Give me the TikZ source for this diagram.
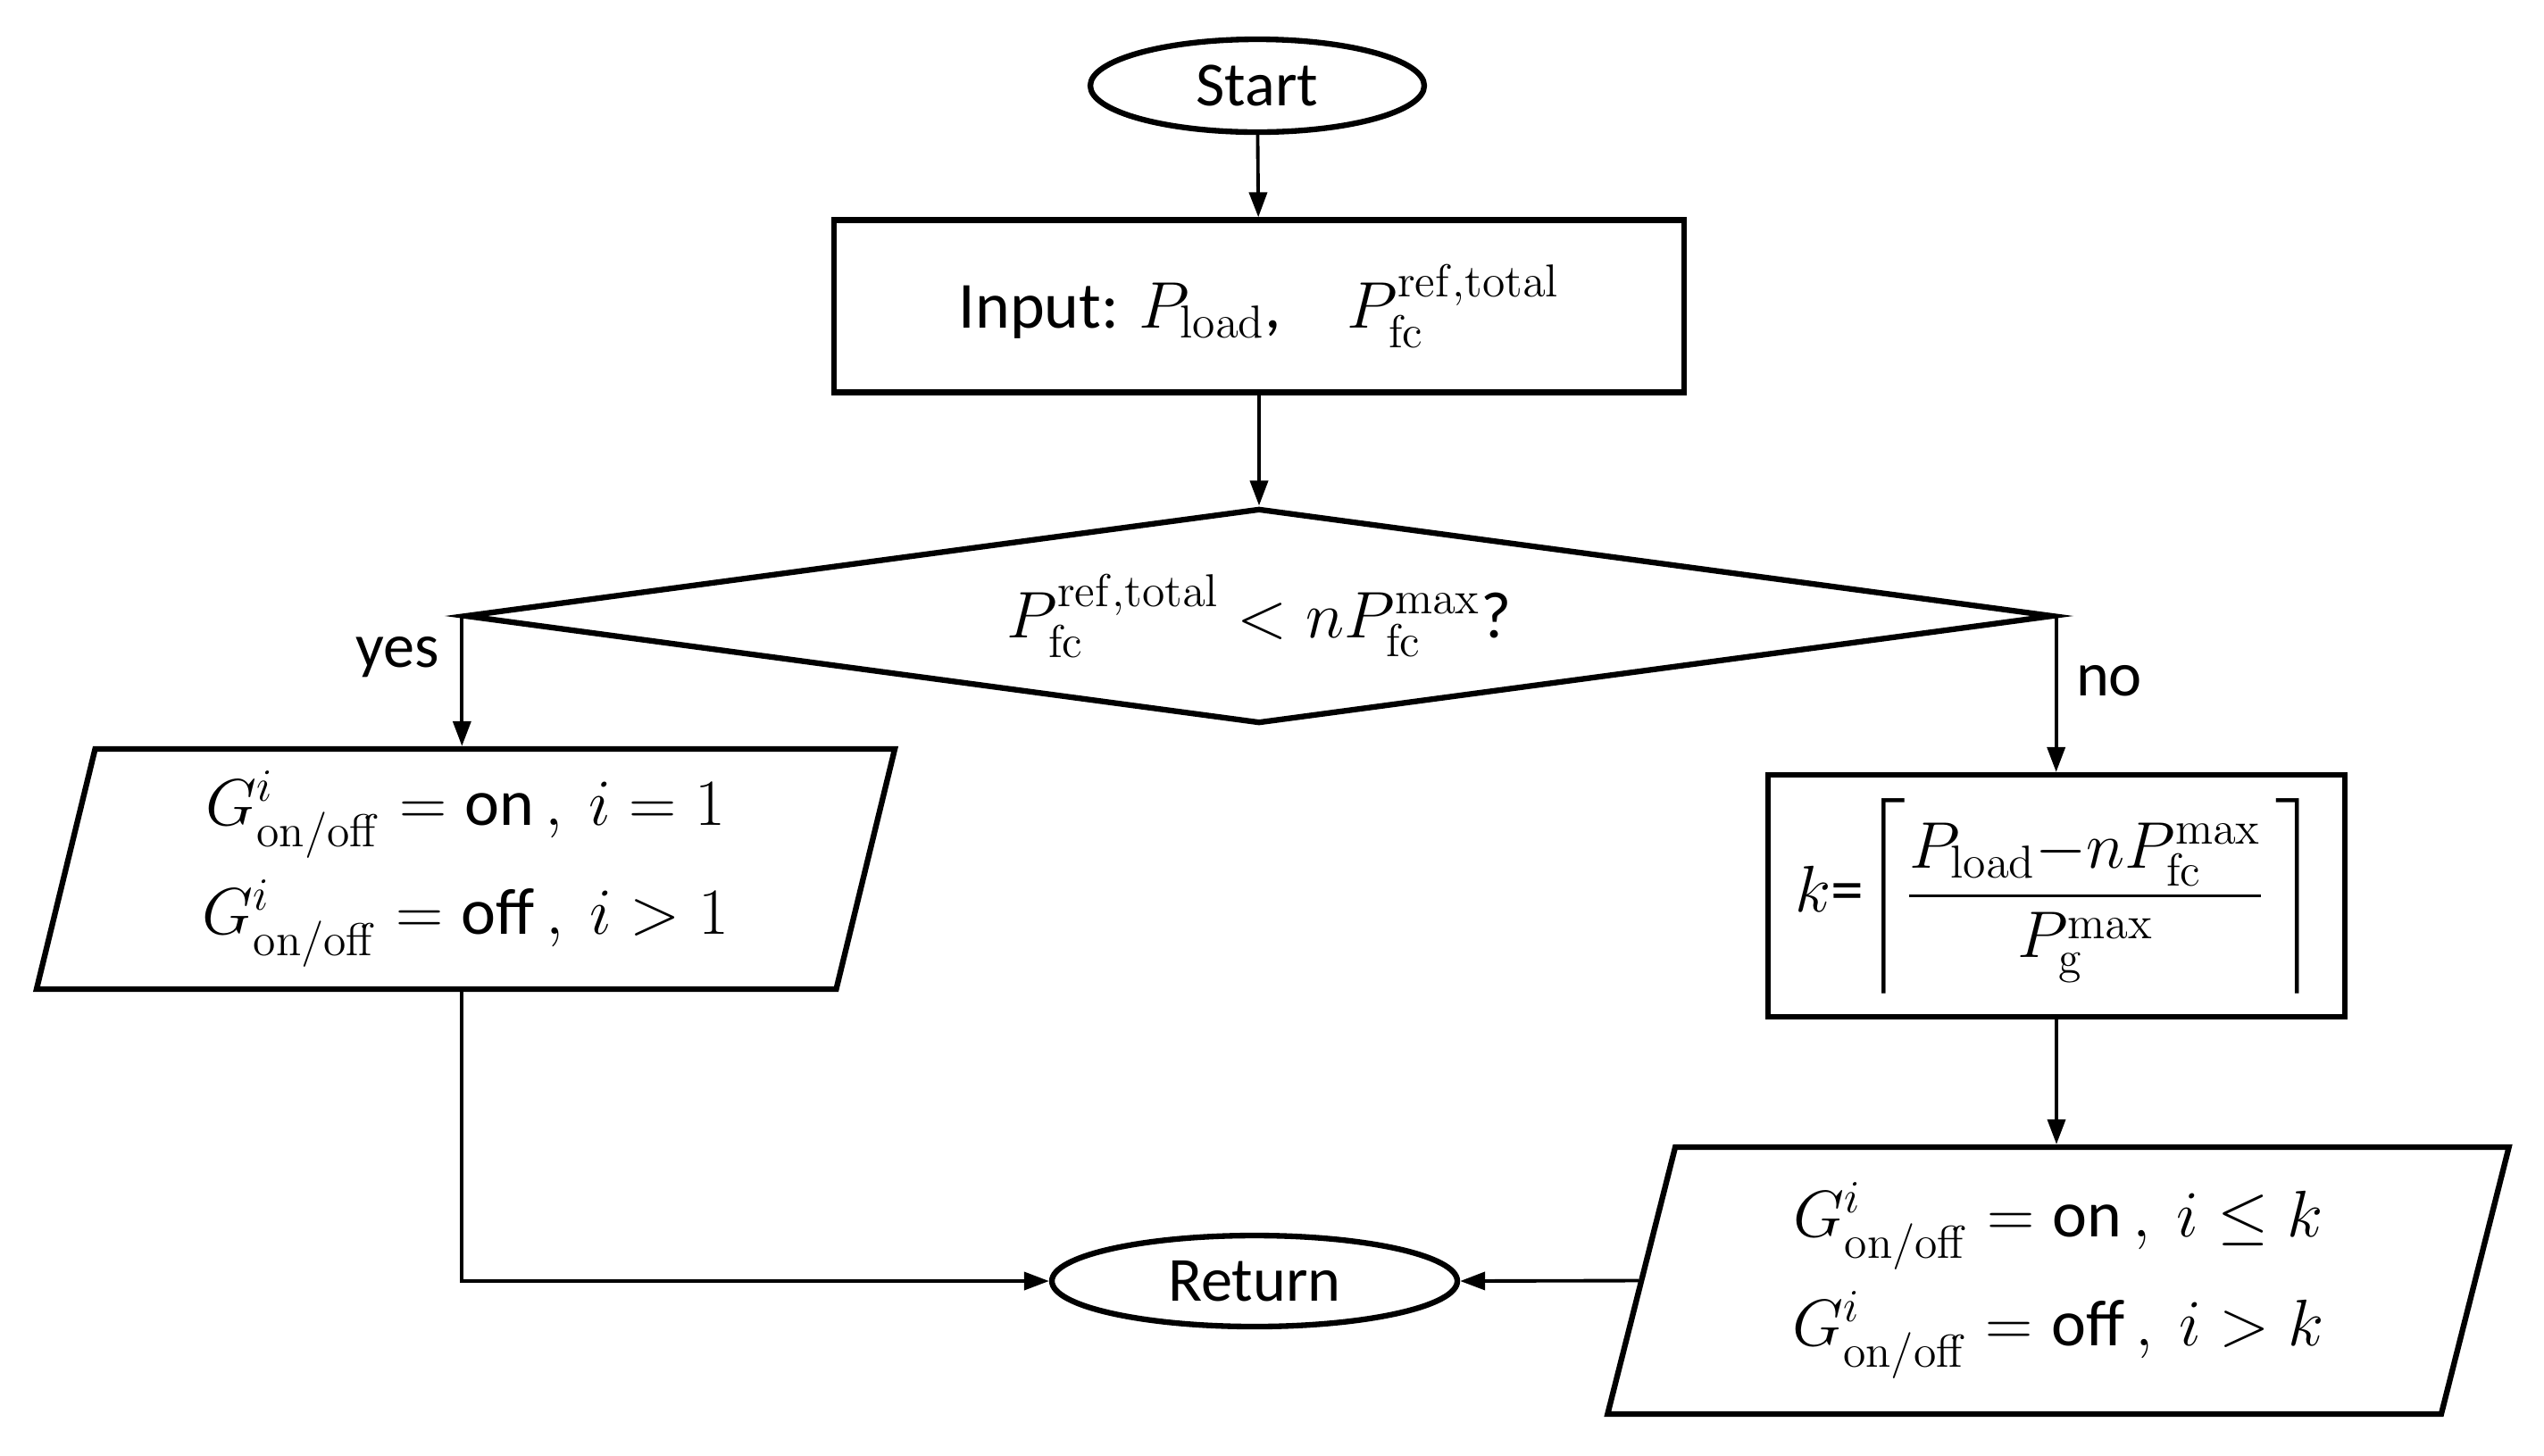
\RequirePackage{fix-cm}
\documentclass[tikz,border=0pt]{standalone}
\usepackage{amsmath}
\usepackage[no-math]{fontspec}
\setmainfont{Carlito}
\usetikzlibrary{shapes.geometric,arrows.meta}

\begin{document}
\begin{tikzpicture}[
	every node/.style={font=\fontsize{20}{26}\selectfont},
	term/.style={ellipse, draw, line width=1.8pt, inner sep=0pt},
	proc/.style={rectangle, draw, line width=1.8pt, inner sep=0pt},
	io/.style={trapezium, trapezium stretches=true, draw, line width=1.8pt, inner sep=0pt, align=center, font=\fontsize{21}{27}\selectfont},
	decide/.style={diamond, draw, line width=1.8pt, inner sep=0pt, shape aspect=7.4},
	arr/.style={line width=1.1pt, -{Triangle[length=0.28cm,width=0.2cm]}}
	]
			%%%%% START %%%%%
			
			\useasboundingbox (0, 0) rectangle (28.49, -16.30);
			
			\node[term, minimum width=3.74cm, minimum height=1.04cm] (start) at (14.08, -0.96) {Start};
			\node[proc, minimum width=9.52cm, minimum height=1.93cm, font=\fontsize{21}{27}\selectfont] (input) at (14.10, -3.43) {Input: $P_{\mathrm{load}}$,\quad$P_{\mathrm{fc}}^{\mathrm{ref,total}}$};
			\node[decide, minimum width=17.79cm, minimum height=2.41cm, font=\fontsize{21}{27}\selectfont] (cond) at (14.10, -6.90) {$P_{\mathrm{fc}}^{\mathrm{ref,total}} < nP_{\mathrm{fc}}^{\mathrm{max}}$?};
			
			\node[io, trapezium left angle=78, trapezium right angle=102, minimum width=9.63cm, minimum height=2.69cm] (one) at (5.215, -9.735) {$G_{\mathrm{on/off}}^{i} = \text{on}\,,\ i = 1$\\[6pt] $G_{\mathrm{on/off}}^{i} = \text{off}\,,\ i > 1$};
			\node[proc, minimum width=6.46cm, minimum height=2.71cm, font=\fontsize{21}{27}\selectfont] (kval) at (23.03, -10.035) {$k$=$\left\lceil\dfrac{P_{\mathrm{load}}{-}nP_{\mathrm{fc}}^{\mathrm{max}}}{P_{\mathrm{g}}^{\mathrm{max}}}\,\right\rceil$};
			\node[io, trapezium left angle=76.5, trapezium right angle=103.5, minimum width=10.12cm, minimum height=2.99cm] (many) at (23.05, -14.345) {$G_{\mathrm{on/off}}^{i} = \text{on}\,,\ i \leq k$\\[6pt] $G_{\mathrm{on/off}}^{i} = \text{off}\,,\ i > k$};
			
			\node[term, minimum width=4.54cm, minimum height=1.02cm] (ret) at (14.05, -14.35) {Return};
			
			\node (yes) at (4.45, -7.36) {yes};
			\node (no) at (23.62, -7.63) {no};
			
			\draw[arr] (start) -- (input);
			\draw[arr] (input) -- (cond);
			\draw[arr] (cond.west) -- (cond.west |- one.north);
			\draw[arr] (cond.east) -- (cond.east |- kval.north);
			\draw[arr] (kval.south) -- (kval.south |- many.north);
			\draw[arr] (one.south -| cond.west) |- (ret.west);
			\draw[arr] (many.west) -- (ret.east);
			
			%%%%% END %%%%%
\end{tikzpicture}
\end{document}
